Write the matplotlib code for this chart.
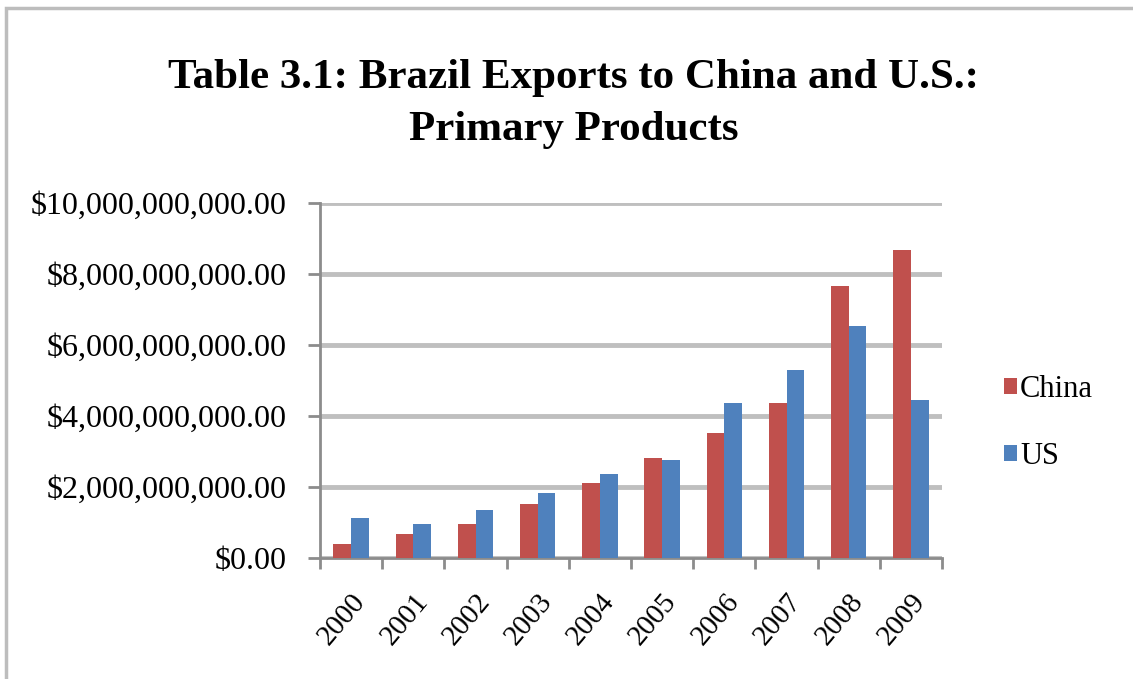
import numpy as np
import matplotlib
matplotlib.use('Agg')
import matplotlib.pyplot as plt
import matplotlib.transforms as mtransforms
from matplotlib.patches import Rectangle
from matplotlib.ticker import FuncFormatter, FixedLocator

years = ['2000', '2001', '2002', '2003', '2004', '2005', '2006', '2007', '2008', '2009']
# exports, billions of US$
china = [0.40, 0.69, 0.97, 1.53, 2.10, 2.83, 3.51, 4.36, 7.66, 8.67]
us = [1.14, 0.97, 1.34, 1.82, 2.38, 2.75, 4.36, 5.29, 6.54, 4.44]

red = '#C0504D'
blue = '#4F81BD'
grid_c = '#BFBFBF'
axis_c = '#8C8C8C'

plt.rcParams['font.family'] = ['Liberation Serif', 'DejaVu Serif']

fig = plt.figure(figsize=(11.33, 6.79), dpi=100)
# outer frame of the chart area (runs off the right and bottom edge)
fig.patches.append(Rectangle((6 / 1133, -0.05), 1.2, (679 - 8) / 679 + 0.05,
                             transform=fig.transFigure, fill=False,
                             edgecolor='#BDBDBD', linewidth=2.5, zorder=0))

ax = fig.add_axes([320 / 1133, 121 / 679, 622 / 1133, 355 / 679])
x = np.arange(len(years))
w = 1 / 3.5
scale = 1e9
ax.bar(x - w / 2, np.array(china) * scale, width=w, color=red, label='China', zorder=3)
ax.bar(x + w / 2, np.array(us) * scale, width=w, color=blue, label='US', zorder=3)

ax.set_xlim(-0.5, len(years) - 0.5)
ax.set_ylim(0, 10e9)
ax.yaxis.set_major_locator(FixedLocator(np.arange(0, 10e9 + 1, 2e9)))
ax.yaxis.set_major_formatter(FuncFormatter(lambda v, p: '${:,.2f}'.format(v)))
ax.grid(axis='y', color=grid_c, linewidth=3.5, zorder=1)
ax.set_axisbelow(True)

# category boundary ticks, labels in the middle
ax.set_xticks(np.arange(-0.5, len(years), 1.0))
ax.set_xticklabels([])
ax.set_xticks(x, minor=True)
ax.set_xticklabels(years, minor=True, rotation=50, ha='right',
                   rotation_mode='anchor', fontsize=21)
shift = mtransforms.ScaledTranslation(-9 / 100, 0, fig.dpi_scale_trans)
for lbl in ax.get_xticklabels(minor=True):
    lbl.set_transform(lbl.get_transform() + shift)
ax.tick_params(axis='x', which='major', length=8, width=2, color=axis_c)
ax.tick_params(axis='x', which='minor', length=0, pad=22)
ax.tick_params(axis='y', length=9, width=2, color=axis_c, labelsize=23, pad=15)

for s in ['top', 'right']:
    ax.spines[s].set_visible(False)
for s in ['left', 'bottom']:
    ax.spines[s].set_color(axis_c)
    ax.spines[s].set_linewidth(2)

fig.text(574 / 1133, 1 - 78 / 679, 'Table 3.1: Brazil Exports to China and U.S.:',
         ha='center', va='center', fontsize=31, fontweight='bold')
fig.text(574 / 1133, 1 - 130 / 679, 'Primary Products',
         ha='center', va='center', fontsize=31, fontweight='bold')

ax.legend(loc='center left', bbox_to_anchor=(1.055, 0.38), frameon=False,
          fontsize=22, handlelength=0.42, handleheight=0.42, handletextpad=0.12,
          labelspacing=1.25)

fig.savefig('out.png', dpi=100)
